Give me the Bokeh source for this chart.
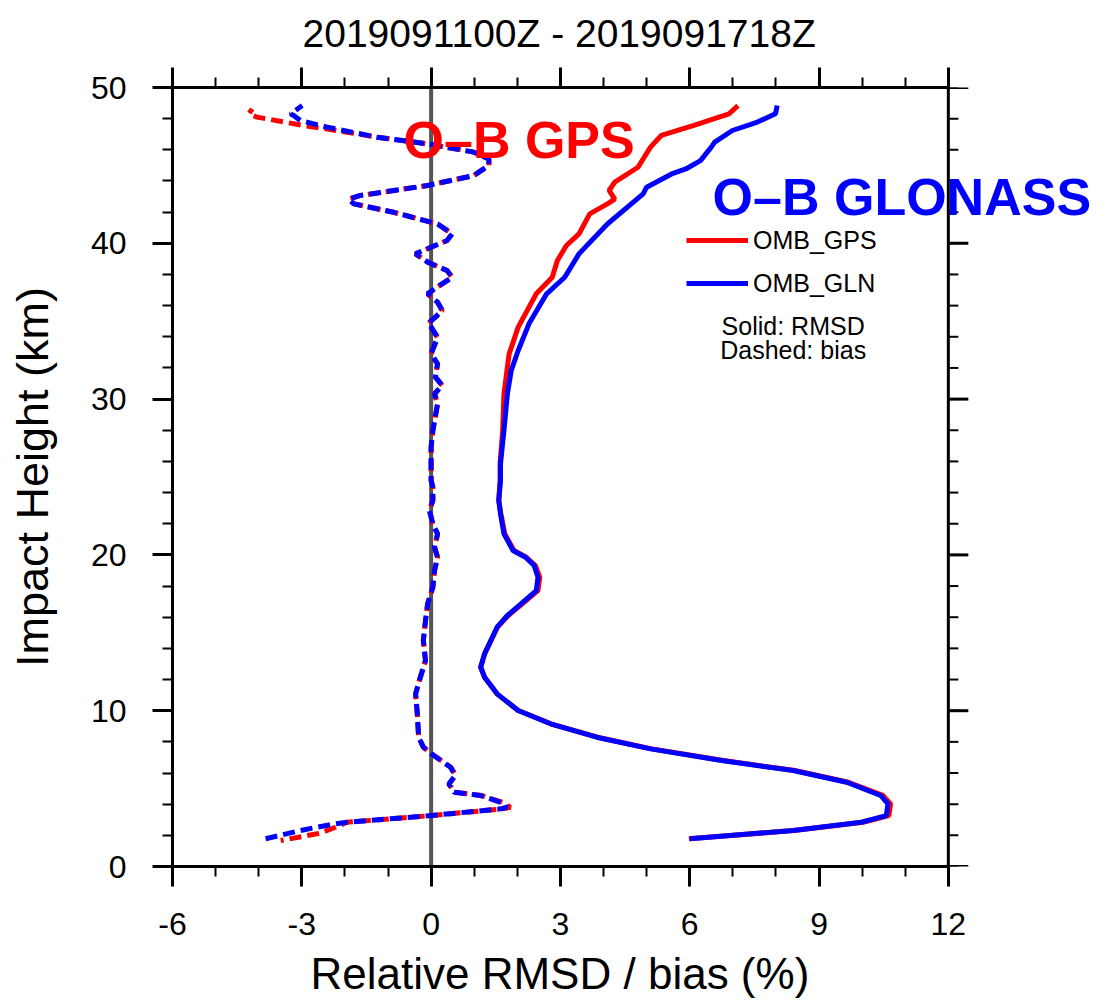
from bokeh.plotting import figure
from bokeh.models import (Range1d, LinearAxis, FixedTicker, Label, Legend,
                          LegendItem, Span, CustomLabelingPolicy, Title)
from bokeh.embed import file_html
from bokeh.resources import INLINE

# ---------------- data ----------------
title_text = "2019091100Z - 2019091718Z"
x_label_text = "Relative RMSD / bias (%)"
y_label_text = "Impact Height (km)"
x_ticks = [-6, -3, 0, 3, 6, 9, 12]
x_tick_labels = ["-6", "-3", "0", "3", "6", "9", "12"]
x_minor = list(range(-6, 13))
y_ticks = [0, 10, 20, 30, 40, 50]
y_minor = list(range(0, 51, 2))

# RMSD, GLONASS (solid blue)
gln_rmsd_h = [1.78, 2.31, 2.84, 3.27, 4.02, 4.56, 5.41, 6.16, 6.80, 7.55, 8.30, 9.16,
              10.01, 11.08, 12.15, 12.79, 13.65, 15.36, 16.11, 17.71, 18.57, 19.32,
              19.85, 20.28, 21.35, 22.63, 23.49, 24.78, 25.85, 27.98, 30.34, 31.84,
              33.12, 34.83, 36.76, 37.82, 39.32, 41.24, 43.17, 43.60, 44.45, 44.77,
              45.31, 46.17, 46.49, 47.24, 47.78, 48.31, 48.84]
gln_rmsd_x = [6.00, 8.40, 9.98, 10.56, 10.60, 10.43, 9.64, 8.40, 6.74, 5.09, 3.84, 2.77,
              2.02, 1.53, 1.24, 1.15, 1.24, 1.53, 1.77, 2.44, 2.48, 2.39,
              2.19, 1.90, 1.69, 1.61, 1.57, 1.61, 1.61, 1.69, 1.77, 1.86,
              2.02, 2.27, 2.68, 3.10, 3.43, 4.09, 4.92, 5.00, 5.58, 5.91,
              6.25, 6.50, 6.58, 6.99, 7.57, 7.99, 8.03]

# RMSD, GPS (solid red)
gps_rmsd_h = [1.78, 2.31, 2.84, 3.27, 4.02, 4.56, 5.41, 6.16, 6.80, 7.55, 8.30, 9.16,
              10.01, 11.08, 12.15, 12.79, 13.65, 15.36, 16.11, 17.71, 18.57, 19.32,
              19.85, 20.28, 21.35, 22.63, 23.49, 24.78, 25.85, 27.98, 30.34, 31.84,
              32.90, 34.62, 36.76, 37.82, 38.90, 39.86, 40.60, 41.89, 42.53, 42.84,
              43.39, 43.92, 44.88, 46.17, 46.92, 47.56, 48.31, 48.84]
gps_rmsd_x = [5.98, 8.42, 10.02, 10.62, 10.66, 10.48, 9.68, 8.44, 6.78, 5.12, 3.86, 2.78,
              2.02, 1.53, 1.24, 1.15, 1.24, 1.54, 1.79, 2.48, 2.52, 2.42,
              2.21, 1.92, 1.71, 1.62, 1.57, 1.60, 1.60, 1.66, 1.69, 1.76,
              1.81, 2.02, 2.44, 2.81, 2.93, 3.14, 3.43, 3.68, 4.09, 4.26,
              4.13, 4.26, 4.80, 5.09, 5.34, 6.08, 6.91, 7.12]

# bias, GLONASS (dashed blue)
gln_bias_h = [1.78, 2.31, 2.73, 2.84, 3.27, 3.70, 3.80, 4.12, 4.56, 4.77, 5.30, 5.84,
              6.37, 7.12, 7.66, 8.30, 9.80, 11.08, 12.15, 13.22, 14.51, 15.79, 16.86,
              17.93, 19.00, 19.85, 20.49, 21.35, 21.99, 22.85, 23.49, 24.34, 24.78,
              26.91, 27.98, 29.69, 30.34, 30.87, 31.41, 32.26, 32.90, 33.97, 34.62,
              34.83, 35.26, 35.68, 36.22, 36.76, 37.08, 37.82, 38.25, 38.79, 39.32,
              39.54, 40.18, 40.61, 41.24, 41.99, 42.53, 42.84, 43.07, 43.71, 44.35,
              45.00, 45.41, 45.85, 46.38, 46.81, 47.45, 47.88, 48.20, 48.31, 48.84]
gln_bias_x = [-3.84, -3.03, -2.26, -1.95, 0.00, 1.61, 1.76, 1.61, 1.14, 0.53, 0.41, 0.56,
              0.45, 0.06, -0.18, -0.29, -0.32, -0.36, -0.25, -0.13, -0.18, -0.13, -0.08,
              0.04, 0.08, 0.15, 0.08, 0.15, 0.04, -0.04, 0.04, 0.04, 0.00,
              0.00, 0.04, 0.15, 0.08, 0.26, 0.10, 0.15, 0.00, 0.15, 0.00,
              -0.08, 0.10, 0.26, 0.15, -0.08, 0.08, 0.49, 0.37, -0.08, -0.36,
              -0.18, 0.37, 0.49, 0.15, -0.87, -1.79, -1.91, -1.64, -0.08, 0.99,
              1.34, 1.34, 0.99, -0.08, -1.25, -2.41, -3.03, -3.19, -3.26, -2.99]

# bias, GPS (dashed red)
gps_bias_h = [1.67, 2.14, 2.52, 2.84, 3.27, 3.70, 3.80, 4.12, 4.56, 4.77, 5.30, 5.84,
              6.37, 7.12, 7.66, 8.30, 9.80, 11.08, 12.15, 13.22, 14.51, 15.79, 16.86,
              17.93, 19.00, 19.85, 20.49, 21.35, 21.99, 22.85, 23.49, 24.34, 24.78,
              26.91, 27.98, 29.69, 30.34, 30.87, 31.41, 32.26, 32.90, 33.97, 34.62,
              34.83, 35.26, 35.68, 36.22, 36.76, 37.08, 37.82, 38.25, 38.79, 39.32,
              39.54, 40.18, 40.61, 41.24, 41.99, 42.53, 42.84, 43.07, 43.71, 44.35,
              45.00, 45.41, 45.85, 46.38, 46.81, 47.34, 47.56, 48.10, 48.31, 48.63]
gps_bias_x = [-3.49, -2.57, -2.22, -1.95, 0.02, 1.66, 1.84, 1.66, 1.16, 0.55, 0.42, 0.57,
              0.46, 0.07, -0.18, -0.29, -0.32, -0.36, -0.25, -0.13, -0.18, -0.13, -0.08,
              0.04, 0.08, 0.15, 0.08, 0.15, 0.04, -0.04, 0.04, 0.04, 0.00,
              0.00, 0.04, 0.15, 0.08, 0.26, 0.10, 0.15, 0.00, 0.15, 0.00,
              -0.08, 0.10, 0.26, 0.15, -0.08, 0.08, 0.49, 0.37, -0.08, -0.36,
              -0.18, 0.37, 0.49, 0.15, -0.87, -1.79, -1.91, -1.64, -0.08, 0.99,
              1.34, 1.34, 0.99, -0.08, -1.25, -2.41, -2.96, -4.04, -4.23, -4.15]

FONT = "Liberation Sans"

# plotting box is x_ticks[0]..x_ticks[-1]; frame is widened on the right so
# that the "O-B GLONASS" annotation (which overhangs the box) is not clipped
X0, X1 = x_ticks[0], x_ticks[-1]
X_END = 15.6
FRAME_W = 931
PX_PER_UNIT = FRAME_W / (X_END - X0)

# ---------------- figure ----------------
p = figure(frame_width=FRAME_W, frame_height=779,
           x_range=Range1d(X0, X_END), y_range=Range1d(y_ticks[0], y_ticks[-1]),
           output_backend="svg", toolbar_location=None,
           min_border_left=172, min_border_top=87,
           min_border_right=5, min_border_bottom=100,
           y_axis_label=y_label_text)
p.xgrid.visible = False
p.ygrid.visible = False
p.outline_line_color = None
p.background_fill_color = "white"
p.border_fill_color = "white"

no_labels = CustomLabelingPolicy(code="""
for (const i of indices) { indices.unset(i) }
return indices
""")


def style_axis(ax, ticks, minor, show_labels):
    ax.ticker = FixedTicker(ticks=ticks, minor_ticks=minor)
    ax.axis_line_width = 3
    ax.axis_line_color = "black"
    ax.major_tick_out = 20
    ax.major_tick_in = 0
    ax.major_tick_line_width = 3
    ax.minor_tick_out = 10
    ax.minor_tick_in = 0
    ax.minor_tick_line_width = 2
    ax.major_label_text_font = FONT
    ax.major_label_text_color = "black"
    if show_labels:
        ax.major_label_text_font_size = "32px"
        ax.major_label_standoff = 26
    else:
        ax.major_label_text_font_size = "1px"
        ax.major_label_policy = no_labels
        ax.major_label_standoff = 0
    ax.axis_label_text_font = FONT
    ax.axis_label_text_font_style = "normal"
    ax.axis_label_text_color = "black"


style_axis(p.xaxis[0], x_ticks, x_minor, True)
p.xaxis[0].bounds = (X0, X1)
p.xaxis[0].major_label_overrides = dict(zip(x_ticks, x_tick_labels))
style_axis(p.yaxis[0], y_ticks, y_minor, True)
p.yaxis[0].axis_label_text_font_size = "45px"
p.yaxis[0].axis_label_standoff = 30

# top edge of the plotting box
top_ax = LinearAxis()
style_axis(top_ax, x_ticks, x_minor, False)
top_ax.bounds = (X0, X1)
p.add_layout(top_ax, "above")

# title centred over the plotting box (x = -6 .. 12)
t = Title(text=title_text, align="left", offset=130, text_font=FONT,
          text_font_style="normal", text_font_size="39px", text_color="black",
          standoff=18)
p.add_layout(t, "above")

xt = Title(text=x_label_text, align="left", offset=138, text_font=FONT,
           text_font_style="normal", text_font_size="44px", text_color="black",
           standoff=18)
p.add_layout(xt, "below")

# right edge of the plotting box (at x = 12) with outward ticks
right_edge = Span(location=X1, dimension="height", line_color="black",
                  line_width=3, level="overlay")
p.add_layout(right_edge)
maj_len = 20 / PX_PER_UNIT
min_len = 10 / PX_PER_UNIT
p.segment(x0=[X1] * len(y_minor), y0=y_minor,
          x1=[X1 + min_len] * len(y_minor), y1=y_minor,
          line_color="black", line_width=2)
p.segment(x0=[X1] * len(y_ticks), y0=y_ticks,
          x1=[X1 + maj_len] * len(y_ticks), y1=y_ticks,
          line_color="black", line_width=3)

# zero line
zero = Span(location=0, dimension="height", line_color="#555555",
            line_width=4, level="underlay")
p.add_layout(zero)

# curves
p.line(gps_bias_x, gps_bias_h, line_color="red", line_width=5,
       line_dash="12 6", line_dash_offset=9)
p.line(gln_bias_x, gln_bias_h, line_color="blue", line_width=5,
       line_dash="12 6")
r_gps = p.line(gps_rmsd_x, gps_rmsd_h, line_color="red", line_width=5)
r_gln = p.line(gln_rmsd_x, gln_rmsd_h, line_color="blue", line_width=5)

legend = Legend(items=[LegendItem(label="OMB_GPS", renderers=[r_gps]),
                       LegendItem(label="OMB_GLN", renderers=[r_gln])],
                location=(514, 568))
legend.border_line_alpha = 0
legend.background_fill_alpha = 0
legend.glyph_width = 62
legend.glyph_height = 30
legend.label_height = 30
legend.spacing = 13
legend.padding = 0
legend.margin = 0
legend.label_standoff = 5
legend.label_text_font = FONT
legend.label_text_font_size = "25px"
legend.label_text_color = "black"
p.add_layout(legend)

# annotations
p.add_layout(Label(x=8.40, y=34.72, text="Solid: RMSD", text_align="center",
                   text_baseline="middle", text_font=FONT,
                   text_font_size="25px", text_color="black"))
p.add_layout(Label(x=8.40, y=33.12, text="Dashed: bias", text_align="center",
                   text_baseline="middle", text_font=FONT,
                   text_font_size="25px", text_color="black"))
p.add_layout(Label(x=-0.64, y=46.66, text="O\u2013B GPS", text_align="left",
                   text_baseline="alphabetic", text_font=FONT,
                   text_font_style="bold", text_font_size="52px",
                   text_color="red"))
p.add_layout(Label(x=6.53, y=42.94, text="O\u2013B GLONASS", text_align="left",
                   text_baseline="alphabetic", text_font=FONT,
                   text_font_style="bold", text_font_size="52px",
                   text_color="blue"))

open("out.html", "w").write(file_html(p, INLINE))
